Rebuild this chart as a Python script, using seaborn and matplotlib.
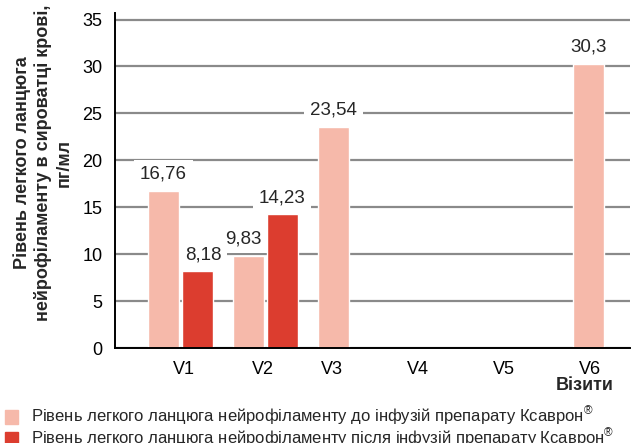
import matplotlib
matplotlib.use("Agg")
import matplotlib.pyplot as plt
from matplotlib.patches import Patch
import seaborn as sns
import pandas as pd

visits = ["V1", "V2", "V3", "V4", "V5", "V6"]
before = [16.76, 9.83, 23.54, None, None, 30.3]
after = [8.18, 14.23, None, None, None, None]
label_before = "Рівень легкого ланцюга нейрофіламенту до інфузій препарату Ксаврон$^{\\mathrm{®}}$"
label_after = "Рівень легкого ланцюга нейрофіламенту після інфузій препарату Ксаврон$^{\\mathrm{®}}$"

pink = "#F6B9AA"
red = "#DC3D2F"

rows = []
for v, b, a in zip(visits, before, after):
    if b is not None:
        rows.append({"visit": v, "value": b, "group": "before"})
    if a is not None:
        rows.append({"visit": v, "value": a, "group": "after"})
df = pd.DataFrame(rows)

sns.set_style("white")
plt.rcParams["font.family"] = ["Liberation Sans", "DejaVu Sans"]
plt.rcParams["mathtext.fontset"] = "custom"
plt.rcParams["mathtext.rm"] = "Liberation Sans"

fig = plt.figure(figsize=(6.32, 4.43), dpi=100)
ax = fig.add_axes([0.182, 0.2144, 0.815, 0.7563])

sns.barplot(data=df, x="visit", y="value", hue="group", order=visits,
            hue_order=["before", "after"], palette=[pink, red], saturation=1,
            width=0.8, gap=0.09, ax=ax, legend=False, zorder=3)

ax.set_ylim(0, 35.7)
ax.set_xlim(-0.77, 5.29)
ax.set_yticks(range(0, 36, 5))
ax.yaxis.grid(True, color="#8a8a8a", linewidth=1.6, zorder=0)
ax.set_axisbelow(True)
for s in ["top", "right"]:
    ax.spines[s].set_visible(False)
for s in ["left", "bottom"]:
    ax.spines[s].set_color("black")
    ax.spines[s].set_linewidth(1.4)
    ax.spines[s].set_zorder(5)

# visit labels sit a bit off the bar groups in the original
ax.set_xticks([0.04, 0.97, 1.78, 2.79, 3.81, 4.82], visits)
ax.tick_params(axis="both", length=0, labelsize=13, colors="black")
ax.tick_params(axis="x", pad=9)
ax.tick_params(axis="y", pad=9)
ax.set_xlabel("")
ax.set_ylabel("")

nudge = {"8,18": 4, "9,83": -4}
for cont in ax.containers:
    for bar in cont:
        h = bar.get_height()
        if h != h or h == 0:
            continue
        txt = str(h).replace(".", ",")
        ax.annotate(txt, (bar.get_x() + bar.get_width() / 2, h),
                    xytext=(nudge.get(txt, 0), 12), textcoords="offset points",
                    ha="center", va="center", fontsize=13.5, zorder=6,
                    bbox=dict(boxstyle="square,pad=0.3", fc="white", ec="none"))

fig.text(43 / 632, 1 - 163 / 443,
         "Рівень легкого ланцюга\nнейрофіламенту в сироватці крові,\nпг/мл",
         rotation=90, ha="center", va="center", fontsize=13,
         fontweight="bold", multialignment="center", linespacing=1.25)
fig.text(614 / 632, 1 - 385 / 443, "Візити", ha="right", va="center",
         fontsize=13, fontweight="bold")

handles = [Patch(color=pink), Patch(color=red)]
fig.legend(handles, [label_before, label_after], loc="upper left",
           bbox_to_anchor=(0.0, 1 - 400 / 443), frameon=False, fontsize=12,
           handlelength=0.8, handleheight=0.95, handletextpad=0.75,
           labelspacing=-0.1, borderaxespad=0, borderpad=0.3)

fig.savefig("out.png", dpi=100)
